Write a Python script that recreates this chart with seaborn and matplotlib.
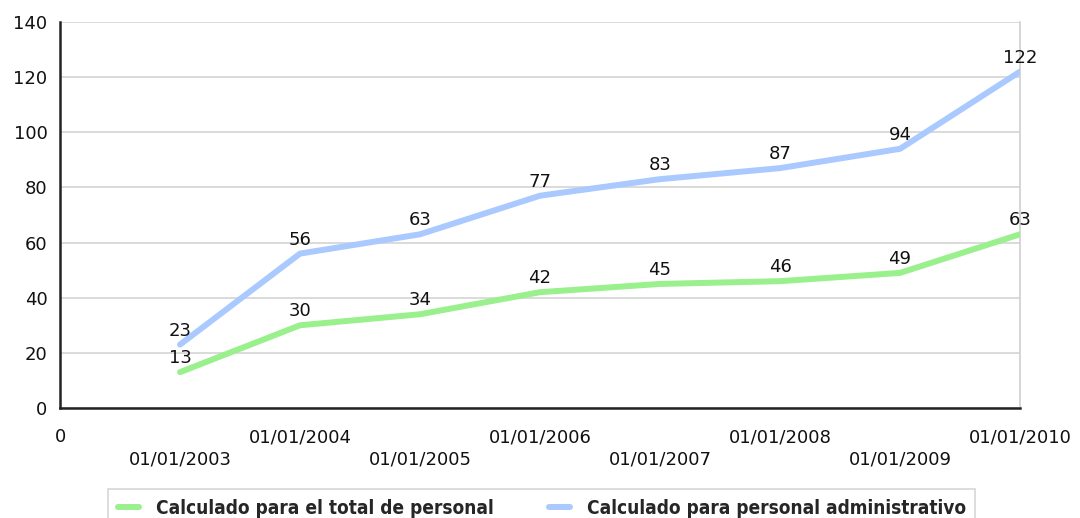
import matplotlib
matplotlib.use("Agg")
import matplotlib.pyplot as plt
import seaborn as sns
import pandas as pd

# Series values per year
fechas = ["01/01/2003", "01/01/2004", "01/01/2005", "01/01/2006",
          "01/01/2007", "01/01/2008", "01/01/2009", "01/01/2010"]
total_personal = [13, 30, 34, 42, 45, 46, 49, 63]
personal_admin = [23, 56, 63, 77, 83, 87, 94, 122]
serie_total = "Calculado para el total de personal"
serie_admin = "Calculado para personal administrativo"
y_ticks = [0, 20, 40, 60, 80, 100, 120, 140]

posiciones = list(range(1, len(fechas) + 1))
df = pd.DataFrame({
    "pos": posiciones * 2,
    "valor": total_personal + personal_admin,
    "serie": [serie_total] * len(fechas) + [serie_admin] * len(fechas),
})

sns.set_theme(style="white")
plt.rcParams["font.family"] = ["DejaVu Sans"]

fig = plt.figure(figsize=(10.8, 5.18), dpi=100)
ax = fig.add_axes([60 / 1080, 1 - 408 / 518, 960 / 1080, 386 / 518])

colores = {serie_total: "#99f08c", serie_admin: "#a9c9ff"}
sns.lineplot(data=df, x="pos", y="valor", hue="serie", palette=colores,
             linewidth=4.3, ax=ax, legend=False, zorder=3)

# value labels above every point
for serie, vals in [(serie_total, total_personal), (serie_admin, personal_admin)]:
    for x, v in zip(posiciones, vals):
        ax.annotate(str(v), (x, v), xytext=(0, 3.5), textcoords="offset points",
                    ha="center", va="bottom", fontsize=13, color="#111111",
                    zorder=4)

ax.set_xlim(0, len(fechas))
ax.set_ylim(0, 140)
ax.set_yticks(y_ticks)
ax.set_yticklabels([str(t) for t in y_ticks], fontsize=13, color="#111111")

# staggered date labels: odd years on the lower row
etiquetas = ["0"] + [f if i % 2 == 1 else "\n" + f for i, f in enumerate(fechas)]
ax.set_xticks([0] + posiciones)
ax.set_xticklabels(etiquetas, fontsize=13, color="#111111", linespacing=1.3)
ax.tick_params(axis="x", length=0, pad=14.5)
ax.tick_params(axis="y", length=0, pad=9)
ax.set_xlabel("")
ax.set_ylabel("")

ax.yaxis.grid(True, color="#d4d4d4", linewidth=1.2)
ax.xaxis.grid(False)
ax.set_axisbelow(True)
for s in ["left", "bottom"]:
    ax.spines[s].set_color("#222222")
    ax.spines[s].set_linewidth(1.8)
ax.spines["right"].set_color("#d0d0d0")
ax.spines["right"].set_linewidth(1.2)
ax.spines["top"].set_visible(False)

handles = [plt.Line2D([], [], color=colores[serie_total], linewidth=4.3),
           plt.Line2D([], [], color=colores[serie_admin], linewidth=4.3)]
leg = fig.legend(handles, [serie_total, serie_admin], ncol=2,
                 loc="upper left", bbox_to_anchor=(108 / 1080, 1 - 489 / 518),
                 frameon=True, fancybox=False, handlelength=1.15,
                 handletextpad=0.85, columnspacing=2.9, borderpad=0.5,
                 borderaxespad=0,
                 prop={"family": "DejaVu Sans", "stretch": "condensed",
                       "weight": "bold", "size": 13.7})
leg.get_frame().set_edgecolor("#cccccc")
leg.get_frame().set_linewidth(1.2)

fig.savefig("out.png", dpi=100)
